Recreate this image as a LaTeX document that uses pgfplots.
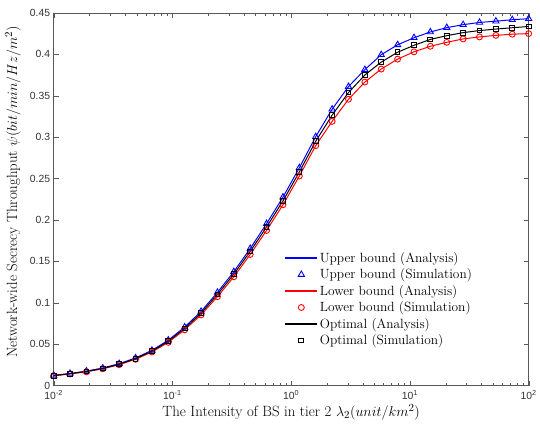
\documentclass[border=0pt]{standalone}
\usepackage{fontspec}
\usepackage{pgfplots}
\pgfplotsset{compat=1.18}
\usepackage{pgfplotstable}
\newfontfamily\tickfont{Liberation Sans}

% x = 10^(-2+4i/29), i = 0..29
\pgfplotstableread{
x        up      lo      opt
0.01     0.0123  0.0117  0.0120
0.013738 0.0146  0.0140  0.0143
0.018874 0.0174  0.0166  0.0170
0.025929 0.0212  0.0202  0.0207
0.035622 0.0264  0.0252  0.0258
0.048939 0.0333  0.0317  0.0325
0.067234 0.0425  0.0405  0.0415
0.092367 0.0548  0.0522  0.0535
0.126896 0.0706  0.0673  0.0690
0.174333 0.0895  0.0853  0.0875
0.239503 0.1125  0.1073  0.1100
0.329034 0.1375  0.1313  0.1345
0.452035 0.1655  0.1583  0.1620
0.621017 0.1955  0.1873  0.1915
0.853168 0.2275  0.2183  0.2230
1.172102 0.2630  0.2530  0.2580
1.610262 0.3005  0.2897  0.2950
2.212216 0.3337  0.3190  0.3265
3.039195 0.3610  0.3457  0.3538
4.175319 0.3815  0.3665  0.3750
5.736153 0.3995  0.3822  0.3906
7.880463 0.4115  0.3942  0.4025
10.82637 0.4200  0.4030  0.4109
14.87352 0.4270  0.4097  0.4180
20.43359 0.4322  0.4145  0.4225
28.07216 0.4358  0.4186  0.4262
38.56620 0.4385  0.4210  0.4287
52.98316 0.4400  0.4229  0.4305
72.78954 0.4418  0.4243  0.4321
100      0.4430  0.4250  0.4336
}\data

\pgfplotsset{
    curve/.style={color=#1, line width=1pt,
        legend image code/.code={\draw[##1, line width=1.4pt] (0bp,0bp) -- (32bp,0bp);}},
}

\begin{document}
\begin{tikzpicture}
\begin{axis}[
    xmode=log,
    scale only axis,
    width=478bp, height=375bp,
    xmin=0.01, xmax=100,
    ymin=0, ymax=0.45,
    axis line style={black!65},
    tick style={black!65},
    tick align=inside,
    major tick length=5bp,
    minor tick length=3bp,
    xtick={0.01,0.1,1,10,100},
    xticklabels={10\textsuperscript{-2},10\textsuperscript{-1},10\textsuperscript{0},10\textsuperscript{1},10\textsuperscript{2}},
    minor xtick={0.02,0.03,0.04,0.05,0.06,0.07,0.08,0.09,0.2,0.3,0.4,0.5,0.6,0.7,0.8,0.9,2,3,4,5,6,7,8,9,20,30,40,50,60,70,80,90},
    ytick={0,0.05,...,0.45},
    yticklabel style={/pgf/number format/fixed,/pgf/number format/precision=2},
    /pgf/number format/assume math mode=true,
    ticklabel style={font=\tickfont\fontsize{10.5}{12}\selectfont, black!80},
    xticklabel style={yshift=-1.5bp},
    label style={font=\fontsize{15}{17}\selectfont},
    xlabel={The Intensity of BS in tier 2 $\lambda_2(unit/km^2)$},
    ylabel={Network-wide Secrecy Throughput $\psi(bit/min/Hz/m^2)$},
    xlabel style={at={(axis description cs:0.5,0)}, anchor=center, yshift=-27bp},
    ylabel style={at={(axis description cs:0,0.52)}, anchor=center, yshift=41bp},
    legend style={draw=none, fill=white, at={(0.484,0.366)}, anchor=north west,
        font=\fontsize{13.5}{15}\selectfont, row sep=1bp, inner sep=1bp},
    legend cell align=left,
    legend image code/.code={\draw[mark repeat=2,mark phase=2,#1] plot coordinates {(0bp,0bp) (16bp,0bp) (32bp,0bp)};},
]
\addplot[curve=blue] table[x=x,y=up] {\data};
\addlegendentry{Upper bound (Analysis)}
\addplot[blue, only marks, mark=triangle, mark size=3.6bp, mark options={line width=0.9pt}] table[x=x,y=up] {\data};
\addlegendentry{Upper bound (Simulation)}
\addplot[curve=red] table[x=x,y=lo] {\data};
\addlegendentry{Lower bound (Analysis)}
\addplot[red, only marks, mark=o, mark size=3bp, mark options={line width=0.9pt}] table[x=x,y=lo] {\data};
\addlegendentry{Lower bound (Simulation)}
\addplot[curve=black] table[x=x,y=opt] {\data};
\addlegendentry{Optimal (Analysis)}
\addplot[black, only marks, mark=square, mark size=2.4bp, mark options={line width=1pt}] table[x=x,y=opt] {\data};
\addlegendentry{Optimal (Simulation)}
\end{axis}
\path (-54bp,-37bp) rectangle (486bp,388bp);
\end{tikzpicture}
\end{document}
